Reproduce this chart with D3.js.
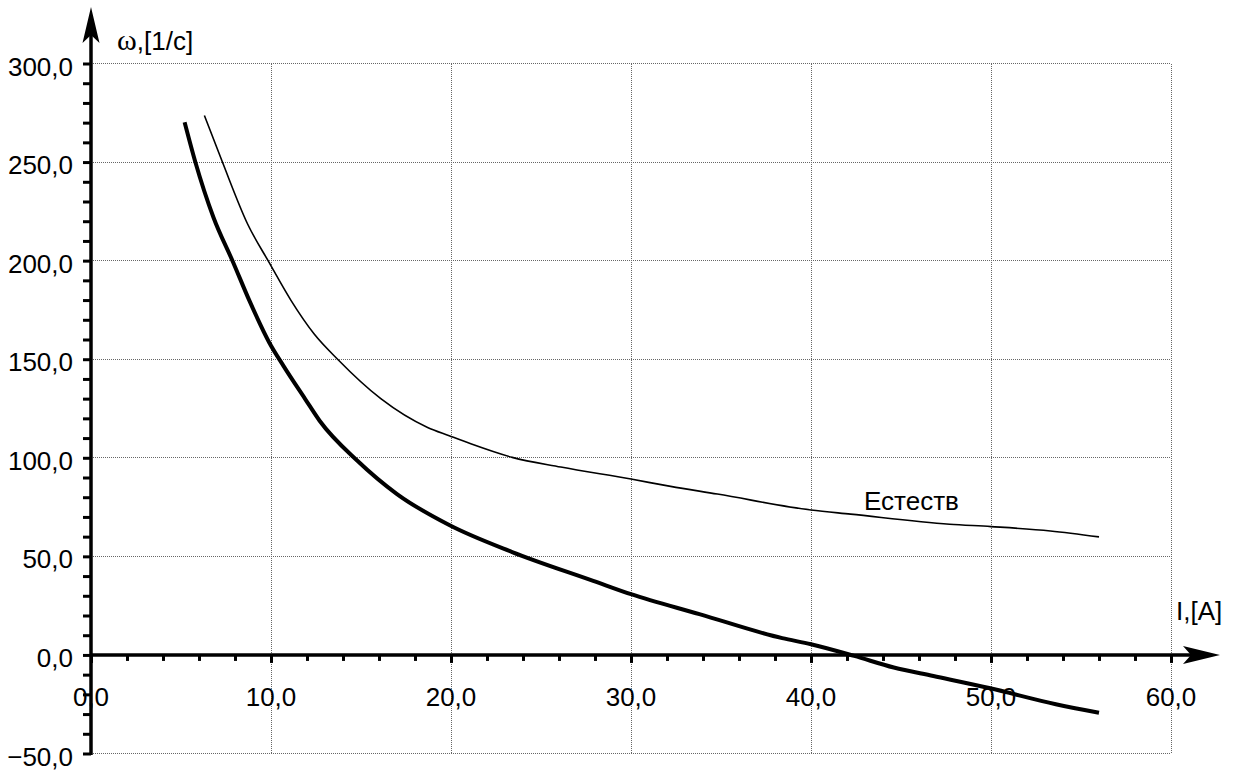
<!DOCTYPE html>
<html>
<head>
<meta charset="utf-8">
<script src="https://d3js.org/d3.v7.min.js"></script>
<style>
  body { margin: 0; background: #fff; }
  text { font-family: "Liberation Sans", Arial, sans-serif; fill: #000; }
</style>
</head>
<body>
<script>
// curve "Естеств" (thin)
var natI = [6.3, 7.3, 8.7, 9.9, 11.1, 12.4, 13.7, 16.1, 18.7, 19.9, 21.1, 23.4, 26.1, 30.0, 32.2, 34.8, 40.0, 42.2, 47.7, 50.0, 53.3, 56.0];
var natW = [273.6, 250, 218.6, 199, 180, 162.8, 150, 130, 115.4, 111.2, 107.1, 100.2, 95.3, 89.2, 85.5, 81.6, 73.5, 71.4, 66.3, 65.1, 62.9, 59.9];
// second curve (thick)
var artI = [5.2, 5.8, 6.8, 7.9, 8.8, 9.9, 10.7, 11.9, 12.7, 14.8, 17.0, 19.9, 23.4, 27.9, 30.0, 33.8, 38.4, 40.0, 42.4, 44.6, 46.8, 49.9, 53.6, 56.0];
var artW = [270.2, 249.9, 222, 199.1, 179.7, 158.5, 146.5, 129.8, 118.8, 98.5, 81.6, 65.9, 52.2, 37.6, 30.8, 20.7, 8.5, 5.4, -0.5, -6.4, -10.7, -16.8, -25, -29.3];

var xGrid = [10, 20, 30, 40, 50, 60];
var yGrid = [-50, 50, 100, 150, 200, 250, 300];
var xLabels = [0, 10, 20, 30, 40, 50, 60];
var yLabels = [-50, 0, 50, 100, 150, 200, 250, 300];

var margin = {left: 91, top: 63.5};
var width = 1080, height = 690;

var svg = d3.select("body").append("svg")
    .attr("width", 1240)
    .attr("height", 773);

var graph = svg.append("g")
    .attr("transform", `translate(${margin.left}, ${margin.top})`);

var x = d3.scaleLinear().domain([0, 60]).range([0, width]);
var y = d3.scaleLinear().domain([-50, 300]).range([height, 0]);

var fmt = function(v) { return d3.format(".1f")(v).replace(".", ","); };

// dotted grid
graph.selectAll(".vgrid").data(xGrid).enter().append("line")
    .attr("x1", d => x(d)).attr("x2", d => x(d))
    .attr("y1", y(300)).attr("y2", y(-50))
    .attr("stroke", "#666").attr("stroke-width", 1).attr("stroke-dasharray", "1,1")
    .attr("shape-rendering", "crispEdges");
graph.selectAll(".hgrid").data(yGrid).enter().append("line")
    .attr("x1", x(0)).attr("x2", x(60))
    .attr("y1", d => y(d)).attr("y2", d => y(d))
    .attr("stroke", "#666").attr("stroke-width", 1).attr("stroke-dasharray", "1,1")
    .attr("shape-rendering", "crispEdges");

// y axis: minor ticks every 10, labels every 50
var yAxis = d3.axisLeft(y).tickValues(d3.range(-50, 301, 10)).tickSize(8).tickFormat("");
var gy = graph.append("g").call(yAxis);
gy.select(".domain").remove();
gy.selectAll(".tick line").attr("stroke", "#000").attr("stroke-width", 3);

// x axis at zero, ticks downward every 2
var xAxis = d3.axisBottom(x).tickValues(d3.range(0, 61, 2)).tickSize(7).tickFormat("");
var gx = graph.append("g").attr("transform", `translate(0, ${y(0)})`).call(xAxis);
gx.select(".domain").remove();
gx.selectAll(".tick line").attr("stroke", "#000").attr("stroke-width", 3)
    .attr("y2", d => d % 10 === 0 ? 8 : 6);

// axis lines with arrows
var yTop = -56.5, xEnd = 1129;
graph.append("line").attr("x1", 0).attr("x2", 0).attr("y1", y(-50) + 1.5).attr("y2", yTop + 20)
    .attr("stroke", "#000").attr("stroke-width", 3.5);
graph.append("path")
    .attr("d", `M0,${yTop} L8.5,${yTop + 36} L0,${yTop + 28} L-8.5,${yTop + 36} Z`)
    .attr("fill", "#000");
graph.append("line").attr("x1", 0).attr("x2", xEnd - 20).attr("y1", y(0)).attr("y2", y(0))
    .attr("stroke", "#000").attr("stroke-width", 3.5);
graph.append("path")
    .attr("d", `M${xEnd},${y(0)} L${xEnd - 37},${y(0) - 9} L${xEnd - 29},${y(0)} L${xEnd - 37},${y(0) + 9} Z`)
    .attr("fill", "#000");

// tick labels
graph.selectAll(".ylab").data(yLabels).enter().append("text")
    .attr("x", -18).attr("y", d => y(d) + 12)
    .attr("text-anchor", "end").attr("font-size", 26)
    .text(fmt);
graph.selectAll(".xlab").data(xLabels).enter().append("text")
    .attr("x", d => x(d)).attr("y", y(0) + 51)
    .attr("text-anchor", "middle").attr("font-size", 26)
    .text(fmt);

// curves
var line = d3.line().x(d => x(d[0])).y(d => y(d[1])).curve(d3.curveMonotoneX);
graph.append("path").datum(d3.zip(natI, natW))
    .attr("d", line).attr("fill", "none").attr("stroke", "#000").attr("stroke-width", 1.6);
graph.append("path").datum(d3.zip(artI, artW))
    .attr("d", line).attr("fill", "none").attr("stroke", "#000").attr("stroke-width", 4);

// axis titles and curve label
var wt = svg.append("text").attr("x", 117).attr("y", 50).attr("font-size", 26);
wt.append("tspan").attr("font-family", "'Liberation Serif', serif").attr("font-size", 30).text("ω");
wt.append("tspan").text(",[1/c]");
svg.append("text").attr("x", 1176).attr("y", 620).attr("font-size", 26).text("I,[A]");
svg.append("text").attr("x", 864).attr("y", 510).attr("font-size", 26).text("Естеств");
</script>
</body>
</html>
